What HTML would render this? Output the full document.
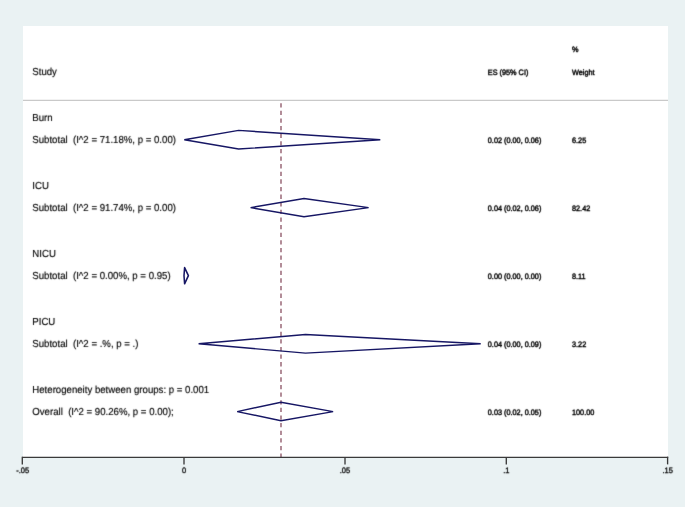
<!DOCTYPE html>
<html><head><meta charset="utf-8">
<style>
html,body{margin:0;padding:0;background:#eaf2f3;}
body{width:685px;height:507px;overflow:hidden;position:relative;}
svg{position:absolute;left:0;top:0;will-change:transform;}
text{font-family:"Liberation Sans",sans-serif;fill:#000;text-rendering:geometricPrecision;}
</style></head>
<body>
<svg width="685" height="507" viewBox="0 0 685 507">
<defs><filter id="tb" x="-5%" y="-50%" width="110%" height="200%"><feConvolveMatrix order="3" kernelMatrix="0.0113 0.0838 0.0113 0.0838 0.6193 0.0838 0.0113 0.0838 0.0113" divisor="1" preserveAlpha="false"/></filter></defs>
<rect x="0" y="0" width="685" height="507" fill="#eaf2f3"/>
<rect x="23" y="26" width="645" height="431" fill="#ffffff"/>
<line x1="23" y1="100.3" x2="668" y2="100.3" stroke="#c9c9c9" stroke-width="1.2"/>
<line x1="281" y1="103.2" x2="281" y2="457" stroke="#966272" stroke-width="1.45" stroke-dasharray="4.3 3.315"/>

<g filter="url(#tb)">
<text transform="translate(32.30,74.60) scale(1,1.05)" style="font-size:9.65px;stroke:#000;stroke-width:0.15px;" xml:space="preserve">Study</text>
<text transform="translate(32.30,120.60) scale(1,1.05)" style="font-size:9.65px;stroke:#000;stroke-width:0.15px;" xml:space="preserve">Burn</text>
<text transform="translate(32.30,143.20) scale(1,1.05)" style="font-size:9.65px;stroke:#000;stroke-width:0.15px;" xml:space="preserve">Subtotal  (I^2 = 71.18%, p = 0.00)</text>
<text transform="translate(32.30,188.60) scale(1,1.05)" style="font-size:9.65px;stroke:#000;stroke-width:0.15px;" xml:space="preserve">ICU</text>
<text transform="translate(32.30,211.20) scale(1,1.05)" style="font-size:9.65px;stroke:#000;stroke-width:0.15px;" xml:space="preserve">Subtotal  (I^2 = 91.74%, p = 0.00)</text>
<text transform="translate(32.30,256.50) scale(1,1.05)" style="font-size:9.65px;stroke:#000;stroke-width:0.15px;" xml:space="preserve">NICU</text>
<text transform="translate(32.30,279.20) scale(1,1.05)" style="font-size:9.65px;stroke:#000;stroke-width:0.15px;" xml:space="preserve">Subtotal  (I^2 = 0.00%, p = 0.95)</text>
<text transform="translate(32.30,324.50) scale(1,1.05)" style="font-size:9.65px;stroke:#000;stroke-width:0.15px;" xml:space="preserve">PICU</text>
<text transform="translate(32.30,347.10) scale(1,1.05)" style="font-size:9.65px;stroke:#000;stroke-width:0.15px;" xml:space="preserve">Subtotal  (I^2 = .%, p = .)</text>
<text transform="translate(32.30,392.60) scale(1,1.05)" style="font-size:9.65px;stroke:#000;stroke-width:0.15px;" xml:space="preserve">Heterogeneity between groups: p = 0.001</text>
<text transform="translate(32.30,414.60) scale(1,1.05)" style="font-size:9.65px;stroke:#000;stroke-width:0.15px;" xml:space="preserve">Overall  (I^2 = 90.26%, p = 0.00);</text>
<text transform="translate(487.80,74.70) scale(1,1.07)" style="font-size:7.3px;stroke:#000;stroke-width:0.4px;" xml:space="preserve">ES (95% CI)</text>
<text transform="translate(572.00,52.20) scale(1,1.07)" style="font-size:7.3px;stroke:#000;stroke-width:0.4px;" xml:space="preserve">%</text>
<text transform="translate(572.00,74.70) scale(1,1.07)" style="font-size:7.3px;stroke:#000;stroke-width:0.4px;" xml:space="preserve">Weight</text>
<text transform="translate(487.80,143.10) scale(1,1.07)" style="font-size:7.3px;stroke:#000;stroke-width:0.4px;" xml:space="preserve">0.02 (0.00, 0.06)</text>
<text transform="translate(572.00,143.10) scale(1,1.07)" style="font-size:7.3px;stroke:#000;stroke-width:0.4px;" xml:space="preserve">6.25</text>
<text transform="translate(487.80,211.00) scale(1,1.07)" style="font-size:7.3px;stroke:#000;stroke-width:0.4px;" xml:space="preserve">0.04 (0.02, 0.06)</text>
<text transform="translate(572.00,211.00) scale(1,1.07)" style="font-size:7.3px;stroke:#000;stroke-width:0.4px;" xml:space="preserve">82.42</text>
<text transform="translate(487.80,278.90) scale(1,1.07)" style="font-size:7.3px;stroke:#000;stroke-width:0.4px;" xml:space="preserve">0.00 (0.00, 0.00)</text>
<text transform="translate(572.00,278.90) scale(1,1.07)" style="font-size:7.3px;stroke:#000;stroke-width:0.4px;" xml:space="preserve">8.11</text>
<text transform="translate(487.80,346.80) scale(1,1.07)" style="font-size:7.3px;stroke:#000;stroke-width:0.4px;" xml:space="preserve">0.04 (0.00, 0.09)</text>
<text transform="translate(572.00,346.80) scale(1,1.07)" style="font-size:7.3px;stroke:#000;stroke-width:0.4px;" xml:space="preserve">3.22</text>
<text transform="translate(487.80,414.70) scale(1,1.07)" style="font-size:7.3px;stroke:#000;stroke-width:0.4px;" xml:space="preserve">0.03 (0.02, 0.05)</text>
<text transform="translate(572.00,414.70) scale(1,1.07)" style="font-size:7.3px;stroke:#000;stroke-width:0.4px;" xml:space="preserve">100.00</text>
</g>
<g fill="none" stroke="#161664" stroke-width="1.45" stroke-linejoin="miter">
<polygon points="184.3,139.8 238.6,130.4 380.3,139.8 238.6,149"/>
<polygon points="250.6,207.6 304,198.5 368.6,207.6 304,216.7"/>
<polygon points="184.0,275.7 184.6,267.6 188.4,275.7 184.6,283.8" stroke-linejoin="round" stroke-width="1.55"/>
<polygon points="198.6,343.8 305.5,334.5 480.7,343.8 305.5,353.1"/>
<polygon points="237.2,411.6 281,402.3 333.1,411.6 281,420.7"/>
</g>
<g stroke="#3a3a3a" stroke-width="1.35" fill="none">
<line x1="22.3" y1="457.4" x2="668.2" y2="457.4"/>
<line x1="22.3" y1="456.7" x2="22.3" y2="464.4"/>
<line x1="184" y1="457" x2="184" y2="464.4"/>
<line x1="345" y1="457" x2="345" y2="464.4"/>
<line x1="506.3" y1="457" x2="506.3" y2="464.4"/>
<line x1="667.6" y1="456.7" x2="667.6" y2="464.4"/>
</g>

<g filter="url(#tb)">
<text transform="translate(22.60,472.90) scale(1,1.05)" style="font-size:7.5px;stroke:#000;stroke-width:0.3px;" text-anchor="middle" xml:space="preserve">-.05</text>
<text transform="translate(184.20,472.90) scale(1,1.05)" style="font-size:7.5px;stroke:#000;stroke-width:0.3px;" text-anchor="middle" xml:space="preserve">0</text>
<text transform="translate(345.00,472.90) scale(1,1.05)" style="font-size:7.5px;stroke:#000;stroke-width:0.3px;" text-anchor="middle" xml:space="preserve">.05</text>
<text transform="translate(506.30,472.90) scale(1,1.05)" style="font-size:7.5px;stroke:#000;stroke-width:0.3px;" text-anchor="middle" xml:space="preserve">.1</text>
<text transform="translate(667.60,472.90) scale(1,1.05)" style="font-size:7.5px;stroke:#000;stroke-width:0.3px;" text-anchor="middle" xml:space="preserve">.15</text>
</g>
</svg>
</body></html>
